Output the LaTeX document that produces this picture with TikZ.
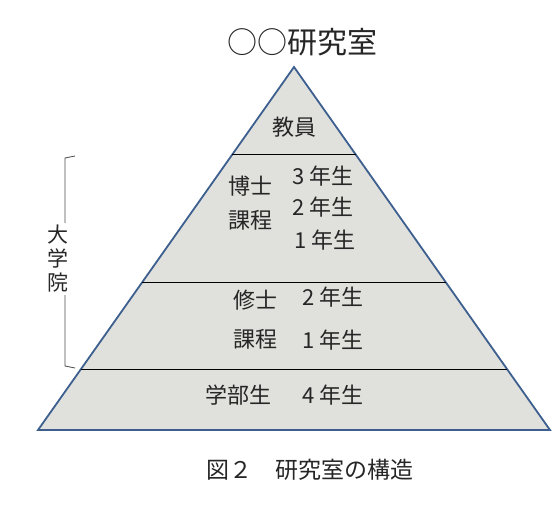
\documentclass[tikz,border=0pt]{standalone}
\usepackage{fontspec}
\setmainfont{Noto Sans CJK JP}
\usetikzlibrary{positioning,calc}
\definecolor{pyrfill}{HTML}{E0E0DC}
\definecolor{pyredge}{HTML}{3D5F8F}

\begin{document}
\begin{tikzpicture}[x=1pt, y=-1pt,
    lbl/.style={font=\fontsize{22}{25}\selectfont, text=black!85, inner sep=0pt},
    divider/.style={draw=black, line width=1pt}]
  \useasboundingbox (0,0) rectangle (553,511);

  % pyramid
  \coordinate (apex) at (294,67);
  \coordinate (base-l) at (38,430);
  \coordinate (base-r) at (550,430);
  \draw[pyredge, line width=1.8pt, fill=pyrfill, line join=miter] (apex) -- (base-l) -- (base-r) -- cycle;

  % layer borders
  \foreach \name/\f in {staff/0.2424, grad/0.595, ug/0.832} {
    \coordinate (\name-l) at ($(apex)!\f!(base-l)$);
    \coordinate (\name-r) at ($(apex)!\f!(base-r)$);
    \draw[divider] (\name-l) -- (\name-r);
  }

  \node[font=\fontsize{30}{32}\selectfont, text=black!85] (title) at (302,42) {○○研究室};

  \node[lbl] (staff) at (294,127) {教員};

  \node[lbl] (dr1) at (250,186) {博士};
  \node[lbl] (dr2) at (250,220) {課程};
  \node[lbl] (d3) at (323,176) {3 年生};
  \node[lbl] (d2) at (323,207) {2 年生};
  \node[lbl] (d1) at (325,240) {1 年生};

  \node[lbl] (ms1) at (255,300) {修士};
  \node[lbl] (ms2) at (255,339) {課程};
  \node[lbl] (m2) at (333,297) {2 年生};
  \node[lbl] (m1) at (333,340) {1 年生};

  \node[lbl] (ug) at (238,395) {学部生};
  \node[lbl] (u4) at (333,395) {4 年生};

  % bracket for graduate school
  \coordinate (brtop) at (75,156);
  \coordinate (brbot) at (75,368);
  \draw[black!70, line width=0.8pt] (brtop) -- ++(-10,2) -- ($(brbot)+(-10,-2)$) -- (brbot);
  \node[lbl, fill=white, align=center, inner ysep=2pt, font=\fontsize{21}{24}\selectfont] (grad) at (58,259) {大\\学\\院};

  \node[font=\fontsize{23}{25}\selectfont, text=black!85] (caption) at (310,470) {図２　研究室の構造};
\end{tikzpicture}
\end{document}
